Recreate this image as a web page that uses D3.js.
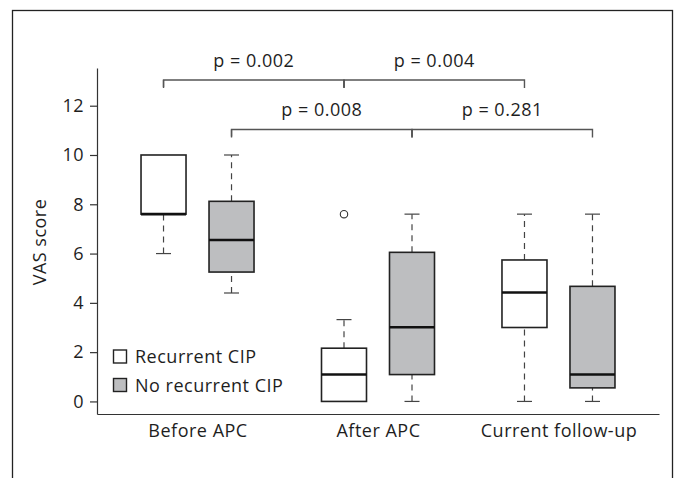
<!DOCTYPE html>
<html>
<head>
<meta charset="utf-8">
<script src="https://cdn.jsdelivr.net/npm/d3@7"></script>
<style>
  body { margin: 0; background: #fff; }
  text { font-family: "Open Sans", "Noto Sans", sans-serif; fill: #1e1e1e; letter-spacing: 0.5px; }
</style>
</head>
<body>
<div id="chart"></div>
<script>
// data
var categories = ["Before APC", "After APC", "Current follow-up"];
var series = ["Recurrent CIP", "No recurrent CIP"];
// one entry per category, [recurrent, no recurrent]
var whiskerLow  = [[6.0, 4.4], [0, 0], [0, 0]];
var q1          = [[7.6, 5.25], [0, 1.09], [3.0, 0.55]];
var median      = [[7.6, 6.55], [1.09, 3.01], [4.42, 1.09]];
var q3          = [[10, 8.12], [2.16, 6.05], [5.74, 4.67]];
var whiskerHigh = [[10, 10], [3.32, 7.6], [7.6, 7.6]];
var outliers    = [[[], []], [[7.6], []], [[], []]];
var yTicks = [0, 2, 4, 6, 8, 10, 12];
// brackets: [from category, from series, to category, to series, label, level]
var brackets = [
  [0, 0, 1, 0, "p = 0.002", 0],
  [1, 0, 2, 0, "p = 0.004", 0],
  [0, 1, 1, 1, "p = 0.008", 1],
  [1, 1, 2, 1, "p = 0.281", 1]
];
var fills = ["#ffffff", "#bdbec0"];
var fontSize = "18px";

var svg = d3.select("#chart").append("svg")
    .attr("width", 678)
    .attr("height", 478);

// outer frame
svg.append("rect")
    .attr("x", 12.5).attr("y", 10.5)
    .attr("width", 660).attr("height", 500)
    .attr("fill", "none").attr("stroke", "#222").attr("stroke-width", 1.3);

var y = d3.scaleLinear().domain([-0.51, 13.53]).range([414, 68]);
var x0 = d3.scalePoint().domain(categories).range([97, 659]).padding(0.557);
var x1 = d3.scaleBand().domain(series).range([-68, 68]);
var boxW = 45;

function cx(ci, si) { return x0(categories[ci]) + x1(series[si]) + x1.bandwidth() / 2; }

// axes
var yAxis = d3.axisLeft(y).tickValues(yTicks).tickSize(7).tickSizeOuter(0).tickPadding(6);
var gy = svg.append("g").attr("transform", "translate(97,0)").call(yAxis);
gy.selectAll("path, line").attr("stroke", "#333").attr("stroke-width", 1.2);
gy.selectAll("text").attr("font-size", fontSize).attr("font-family", "'Open Sans', sans-serif").attr("fill", "#1e1e1e");

var xAxis = d3.axisBottom(x0).tickSize(0).tickSizeOuter(0);
var gx = svg.append("g").attr("transform", "translate(0,414)").call(xAxis);
gx.select(".domain").attr("stroke", "#333").attr("stroke-width", 1.2);
gx.selectAll("text").attr("font-size", fontSize).attr("font-family", "'Open Sans', sans-serif")
    .attr("fill", "#1e1e1e").attr("y", 23).attr("dy", 0);

svg.append("text")
    .attr("transform", "translate(46,242) rotate(-90)")
    .attr("text-anchor", "middle")
    .attr("font-size", fontSize)
    .text("VAS score");

// boxes
var boxes = [];
categories.forEach(function(c, ci) {
  series.forEach(function(s, si) {
    boxes.push({ci: ci, si: si});
  });
});

var gb = svg.append("g").selectAll("g").data(boxes).join("g");

gb.each(function(d) {
  var g = d3.select(this);
  var c = cx(d.ci, d.si);
  var lo = whiskerLow[d.ci][d.si], hi = whiskerHigh[d.ci][d.si];
  var a = q1[d.ci][d.si], b = q3[d.ci][d.si];
  // whiskers
  [[lo, a], [b, hi]].forEach(function(w) {
    if (w[0] === w[1]) return;
    g.append("line")
      .attr("x1", c).attr("x2", c)
      .attr("y1", y(w[0])).attr("y2", y(w[1]))
      .attr("stroke", "#444").attr("stroke-width", 1.2)
      .style("stroke-dasharray", "6,5");
  });
  [lo, hi].forEach(function(v, i) {
    if ((i === 0 && v === a) || (i === 1 && v === b)) return;
    g.append("line")
      .attr("x1", c - 7.5).attr("x2", c + 7.5)
      .attr("y1", y(v)).attr("y2", y(v))
      .attr("stroke", "#444").attr("stroke-width", 1.2);
  });
  g.append("rect")
    .attr("x", c - boxW / 2).attr("width", boxW)
    .attr("y", y(b)).attr("height", y(a) - y(b))
    .attr("fill", fills[d.si])
    .attr("stroke", "#222").attr("stroke-width", 1.6);
  g.append("line")
    .attr("x1", c - boxW / 2).attr("x2", c + boxW / 2)
    .attr("y1", y(median[d.ci][d.si])).attr("y2", y(median[d.ci][d.si]))
    .attr("stroke", "#111").attr("stroke-width", 2.6);
  outliers[d.ci][d.si].forEach(function(v) {
    g.append("circle")
      .attr("cx", c).attr("cy", y(v)).attr("r", 3.7)
      .attr("fill", "#fff").attr("stroke", "#333").attr("stroke-width", 1.1);
  });
});

// significance brackets
var levelY = [80, 129.5];
brackets.forEach(function(br) {
  var xa = cx(br[0], br[1]), xb = cx(br[2], br[3]);
  var ly = levelY[br[5]];
  svg.append("path")
    .attr("d", "M" + xa + "," + (ly + 8) + "V" + ly + "H" + xb + "V" + (ly + 8))
    .attr("fill", "none").attr("stroke", "#555").attr("stroke-width", 1.4);
  svg.append("line")
    .attr("x1", xa).attr("x2", xa)
    .attr("y1", ly).attr("y2", ly + 7)
    .attr("stroke", "#555").attr("stroke-width", 1.4);
  svg.append("text")
    .attr("x", (xa + xb) / 2).attr("y", ly - 13.5)
    .attr("text-anchor", "middle")
    .attr("font-size", fontSize)
    .text(br[4]);
});

// legend
var legend = svg.append("g").selectAll("g").data(series).join("g")
    .attr("transform", function(d, i) { return "translate(113.5," + (350 + i * 28.5) + ")"; });
legend.append("rect")
    .attr("width", 13).attr("height", 13)
    .attr("fill", function(d, i) { return fills[i]; })
    .attr("stroke", "#222").attr("stroke-width", 1.4);
legend.append("text")
    .attr("x", 21.5).attr("y", 13)
    .attr("font-size", fontSize)
    .text(function(d) { return d; });
</script>
</body>
</html>
